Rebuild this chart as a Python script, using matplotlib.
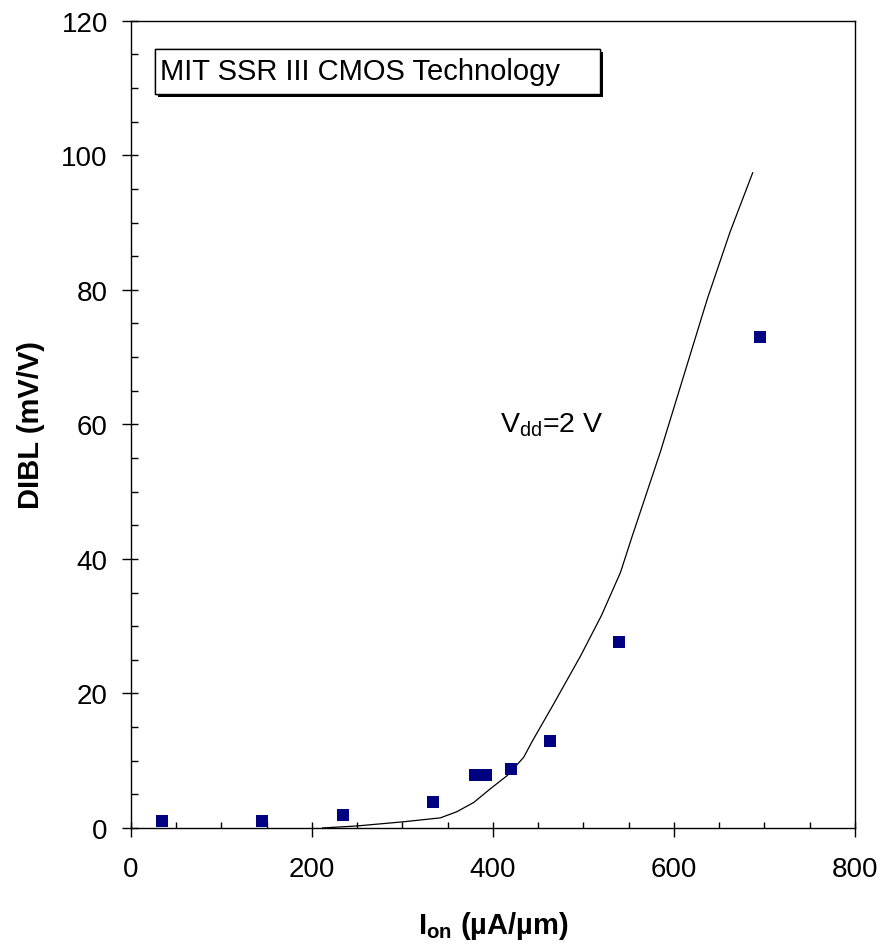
import matplotlib
matplotlib.use("Agg")
import matplotlib.pyplot as plt
import matplotlib.patheffects as pe
from matplotlib.patches import Rectangle
from matplotlib.ticker import MultipleLocator
import numpy as np

plt.rcParams['font.family'] = ['Liberation Sans', 'DejaVu Sans']
plt.rcParams['mathtext.fontset'] = 'custom'
plt.rcParams['mathtext.rm'] = 'Liberation Sans'
plt.rcParams['mathtext.it'] = 'Liberation Sans:italic'
plt.rcParams['mathtext.bf'] = 'Liberation Sans:bold'

# measured devices (Ion in uA/um, DIBL in mV/V)
ion_meas = [35, 145, 235, 334, 380, 392, 420, 463, 539, 695]
dibl_meas = [1, 1, 2, 3.9, 7.9, 7.9, 8.8, 12.9, 27.7, 73]

# simulated curve, Vdd = 2 V
ion_sim = [212, 250, 300, 342, 360, 379, 397, 416, 434, 444, 467, 497,
           520, 541, 553, 585, 611, 637, 662, 687]
dibl_sim = [0, 0.3, 0.9, 1.5, 2.4, 3.8, 5.8, 7.8, 10.5, 13.0, 18.4, 25.6,
            31.6, 38, 43, 55.9, 67.3, 78.7, 88.6, 97.4]

fig = plt.figure(figsize=(8.85, 9.45), dpi=100)
ax = fig.add_axes([0.1477, 0.1228, 0.8184, 0.8542])

ax.plot(np.array(ion_sim), np.array(dibl_sim), color='black', lw=0.9, zorder=2)
ax.plot(np.array(ion_meas), np.array(dibl_meas), 's', color='#000080',
        markersize=9, markeredgewidth=0, zorder=3, clip_on=False)

ax.set_xlim(0, 800)
ax.set_ylim(0, 120)
ax.xaxis.set_major_locator(MultipleLocator(200))
ax.xaxis.set_minor_locator(MultipleLocator(50))
ax.yaxis.set_major_locator(MultipleLocator(20))
ax.yaxis.set_minor_locator(MultipleLocator(5))
ax.xaxis.remove_overlapping_locs = False
ax.yaxis.remove_overlapping_locs = False

ax.tick_params(which='major', direction='out', length=6.5, width=1, labelsize=20)
ax.tick_params(which='minor', direction='in', width=1)
ax.tick_params(axis='x', which='minor', length=4)
ax.tick_params(axis='y', which='minor', length=5)
ax.tick_params(axis='x', which='major', pad=13.5)
ax.tick_params(axis='y', which='major', pad=10)
for s in ax.spines.values():
    s.set_linewidth(1.0)

ax.set_xlabel(r'I$_{\mathbf{on}}$ (µA/µm)', fontsize=21, fontweight='bold')
ax.set_ylabel('DIBL (mV/V)', fontsize=21, fontweight='bold')
ax.xaxis.set_label_coords(0.5, -0.1)
ax.yaxis.set_label_coords(-0.118, 0.5)

# title box with drop shadow
box = Rectangle((0.0335, 0.909), 0.6145, 0.056, transform=ax.transAxes,
                facecolor='white', edgecolor='black', lw=1.0, zorder=4)
box.set_path_effects([pe.withSimplePatchShadow(offset=(2, -2), shadow_rgbFace='black',
                                               alpha=1.0), pe.Normal()])
ax.add_patch(box)
ax.text(0.040, 0.928, 'MIT SSR III CMOS Technology', transform=ax.transAxes,
        fontsize=21, va='baseline', ha='left', zorder=5)

ax.text(408, 58.9, r'V$_{\mathrm{dd}}$=2 V', fontsize=20.5, va='baseline', ha='left')

fig.savefig('out.png', dpi=100)
